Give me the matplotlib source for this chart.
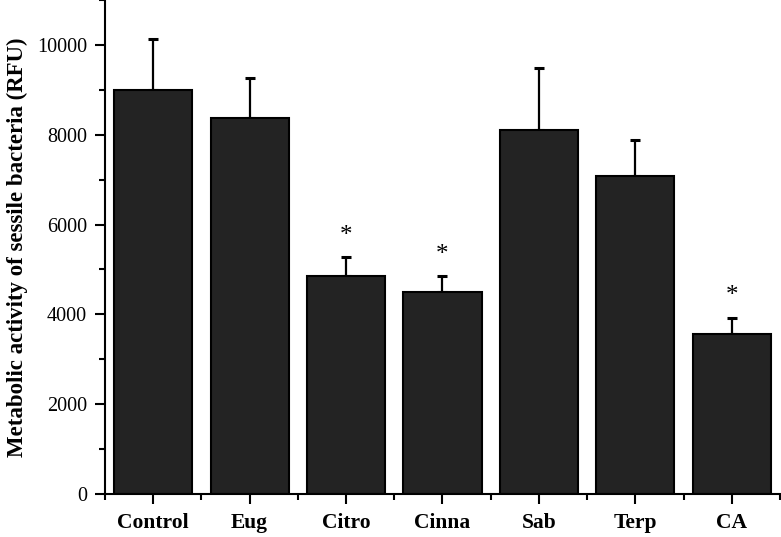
import numpy as np
import matplotlib.pyplot as plt
from matplotlib.ticker import MultipleLocator, FixedLocator

# data
groups = ["Control", "Eug", "Citro", "Cinna", "Sab", "Terp", "CA"]
means = [8990, 8380, 4860, 4490, 8100, 7080, 3560]
sd = [1150, 880, 410, 360, 1380, 800, 370]
signif = [False, False, True, True, False, False, True]

plt.rcParams['font.family'] = ['Liberation Serif', 'DejaVu Serif']

fig = plt.figure(figsize=(7.81, 5.37), dpi=100)
ax = fig.add_axes([105/781, 43/537, 675/781, 494/537])

x = np.arange(len(groups))
ax.bar(x, means, width=0.81, color='#232323', edgecolor='black', linewidth=1.5, zorder=2)
ax.errorbar(x, means, yerr=[np.zeros(len(sd)), sd], fmt='none', ecolor='black',
            elinewidth=1.6, capsize=3.6, capthick=2.2, zorder=1)

for i in range(len(groups)):
    if signif[i]:
        ax.text(x[i], means[i] + sd[i] + 230, '*', ha='center', va='bottom',
                fontsize=18, color='black')

ax.set_xlim(-0.5, len(groups) - 0.5)
ax.set_ylim(0, 11000)
ax.spines['top'].set_visible(False)
ax.spines['right'].set_visible(False)
ax.spines['left'].set_linewidth(1.5)
ax.spines['bottom'].set_linewidth(1.5)

ax.yaxis.set_major_locator(FixedLocator([0, 2000, 4000, 6000, 8000, 10000]))
ax.yaxis.set_minor_locator(MultipleLocator(1000))
ax.set_xticks(x)
ax.set_xticklabels(groups, fontsize=15.5, fontweight='bold')
ax.xaxis.set_minor_locator(FixedLocator(np.arange(-0.5, len(groups), 1.0)))
ax.tick_params(axis='both', which='major', direction='out', length=7, width=1.5)
ax.tick_params(axis='both', which='minor', direction='out', length=4, width=1.5)
ax.tick_params(axis='y', labelsize=14.5, pad=6)
ax.tick_params(axis='x', pad=7)

ax.set_ylabel("Metabolic activity of sessile bacteria (RFU)", fontsize=16.5, fontweight='bold', labelpad=6)

fig.savefig('out.png', dpi=100)
